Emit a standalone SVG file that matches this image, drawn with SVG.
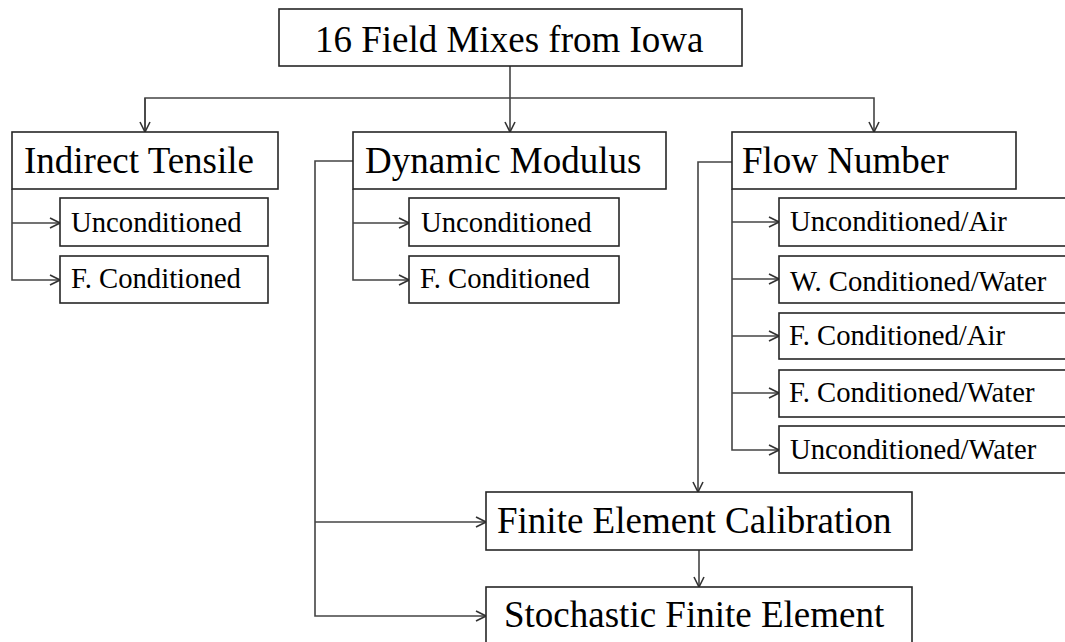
<svg xmlns="http://www.w3.org/2000/svg" width="1065" height="642" viewBox="0 0 1065 642">
<style>
.box{fill:#fff;stroke:#262626;stroke-width:1.6}
.big{font-family:"Liberation Serif","Times New Roman",serif;font-size:37px;fill:#000}
.small{font-family:"Liberation Serif","Times New Roman",serif;font-size:28.7px;fill:#000}
.con{fill:none;stroke:#444;stroke-width:1.6}
</style>
<defs>
<marker id="arr" markerUnits="userSpaceOnUse" markerWidth="12" markerHeight="12" viewBox="0 0 12 12" refX="11" refY="6" orient="auto">
<path d="M1,1 L11,6 L1,11" fill="none" stroke="#333" stroke-width="1.6"/>
</marker>
</defs>
<rect width="1065" height="642" fill="#fff"/>
<g id="connectors">
<path class="con" d="M510,66 V132" marker-end="url(#arr)"/>
<path class="con" d="M145,132 V98 H874 V132" marker-end="url(#arr)"/>
<path class="con" d="M145,98 V132" marker-end="url(#arr)"/>
<path class="con" d="M12,189 V280 H60" marker-end="url(#arr)"/>
<path class="con" d="M12,223 H60" marker-end="url(#arr)"/>
<path class="con" d="M353,189 V280 H409" marker-end="url(#arr)"/>
<path class="con" d="M353,223 H409" marker-end="url(#arr)"/>
<path class="con" d="M732,189 V450 H779" marker-end="url(#arr)"/>
<path class="con" d="M732,222 H779" marker-end="url(#arr)"/>
<path class="con" d="M732,279 H779" marker-end="url(#arr)"/>
<path class="con" d="M732,336 H779" marker-end="url(#arr)"/>
<path class="con" d="M732,393 H779" marker-end="url(#arr)"/>
<path class="con" d="M353,161 H315 V616 H486" marker-end="url(#arr)"/>
<path class="con" d="M315,522 H486" marker-end="url(#arr)"/>
<path class="con" d="M732,162 H698 V492" marker-end="url(#arr)"/>
<path class="con" d="M699,550 V587" marker-end="url(#arr)"/>
</g>
<g id="top"><rect class="box" x="279" y="9" width="463" height="57"/><text class="big" x="315" y="52">16 Field Mixes from Iowa</text></g>
<g id="indirect"><rect class="box" x="12" y="132" width="266" height="57"/><text class="big" x="24" y="173">Indirect Tensile</text></g>
<g id="it-uncond"><rect class="box" x="60" y="198" width="208" height="48"/><text class="small" x="71" y="232">Unconditioned</text></g>
<g id="it-fcond"><rect class="box" x="60" y="256" width="208" height="47"/><text class="small" x="71" y="288">F. Conditioned</text></g>
<g id="dynamic"><rect class="box" x="353" y="132" width="313" height="57"/><text class="big" x="365" y="173">Dynamic Modulus</text></g>
<g id="dm-uncond"><rect class="box" x="409" y="198" width="210" height="48"/><text class="small" x="421" y="232">Unconditioned</text></g>
<g id="dm-fcond"><rect class="box" x="409" y="256" width="210" height="47"/><text class="small" x="420" y="288">F. Conditioned</text></g>
<g id="flow"><rect class="box" x="732" y="132" width="284" height="57"/><text class="big" x="742" y="173">Flow Number</text></g>
<g id="fn1"><rect class="box" x="779" y="198" width="300" height="48"/><text class="small" x="790" y="231">Unconditioned/Air</text></g>
<g id="fn2"><rect class="box" x="779" y="256" width="300" height="47"/><text class="small" x="790" y="291">W. Conditioned/Water</text></g>
<g id="fn3"><rect class="box" x="779" y="313" width="300" height="46"/><text class="small" x="789" y="345">F. Conditioned/Air</text></g>
<g id="fn4"><rect class="box" x="779" y="370" width="300" height="47"/><text class="small" x="789" y="402">F. Conditioned/Water</text></g>
<g id="fn5"><rect class="box" x="779" y="426" width="300" height="47"/><text class="small" x="790" y="459">Unconditioned/Water</text></g>
<g id="fec"><rect class="box" x="486" y="492" width="426" height="58"/><text class="big" x="497" y="533">Finite Element Calibration</text></g>
<g id="sfe"><rect class="box" x="486" y="587" width="426" height="60"/><text class="big" x="504" y="627">Stochastic Finite Element</text></g>
</svg>
